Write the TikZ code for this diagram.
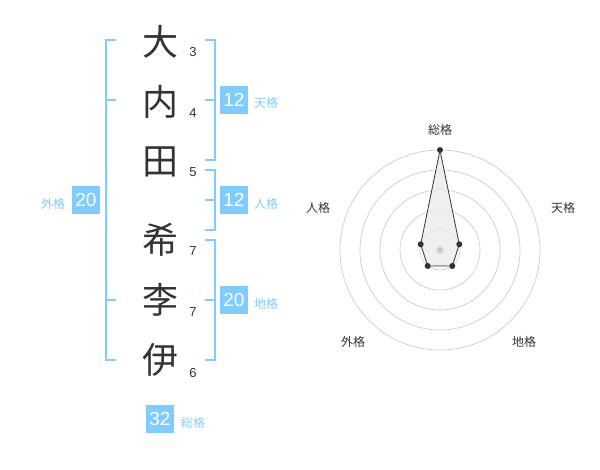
\documentclass[tikz,border=0pt]{standalone}
\usepackage{fontspec}
\setmainfont{Noto Sans CJK JP}
\newfontfamily\arialf{Liberation Sans}
\definecolor{lb}{HTML}{80CCFF}
\definecolor{dk}{HTML}{333333}
\definecolor{gc}{HTML}{CCCCCC}
\begin{document}
\begin{tikzpicture}[x=1pt,y=-1pt,
  kanji/.style={text=dk,font=\fontsize{36}{36}\selectfont,inner sep=0pt},
  cnt/.style={text=dk,font=\arialf\fontsize{13}{13}\selectfont,inner sep=0pt},
  br/.style={draw=lb,line width=2pt},
  valbox/.style={fill=lb,text=white,minimum width=28pt,minimum height=28pt,inner sep=0pt,font=\arialf\fontsize{19}{19}\selectfont},
  lbl/.style={text=lb,font=\fontsize{12}{12}\selectfont,inner sep=0pt},
  rlbl/.style={text=dk,font=\fontsize{12}{12}\selectfont,inner sep=0pt},
  ring/.style={draw=gc,line width=0.7pt},
  dot/.style={circle,fill=dk,inner sep=0pt,minimum size=6pt}]
\useasboundingbox (0,0) rectangle (600,470);
% characters
\node[kanji] (c1) at (160,42) {大};
\node[kanji] (c2) at (160,102) {内};
\node[kanji] (c3) at (160,162) {田};
\node[kanji] (c4) at (160,240) {希};
\node[kanji] (c5) at (160,300) {李};
\node[kanji] (c6) at (160,360) {伊};
% stroke counts
\node[cnt] (n1) at (193,52) {3};
\node[cnt] (n2) at (193,113) {4};
\node[cnt] (n3) at (193,172) {5};
\node[cnt] (n4) at (193,251) {7};
\node[cnt] (n5) at (193,312) {7};
\node[cnt] (n6) at (193,373) {6};
% left bracket
\draw[br] (116,40) -- (106,40) -- (106,360) -- (116,360);
\draw[br] (106,100) -- (116,100);
\draw[br] (106,300) -- (116,300);
% right brackets
\draw[br] (205,40) -- (215,40) -- (215,160) -- (205,160);
\draw[br] (205,100) -- (215,100);
\draw[br] (205,170) -- (215,170) -- (215,230) -- (205,230);
\draw[br] (205,200) -- (215,200);
\draw[br] (205,240) -- (215,240) -- (215,360) -- (205,360);
\draw[br] (205,300) -- (215,300);
% value boxes
\node[valbox] (gai) at (86,200) {20};
\node[lbl] (gail) at (53,204) {外格};
\node[valbox] (ten) at (234,100) {12};
\node[lbl] (tenl) at (266,103) {天格};
\node[valbox] (jin) at (234,200) {12};
\node[lbl] (jinl) at (266,204) {人格};
\node[valbox] (chi) at (234,300) {20};
\node[lbl] (chil) at (266,304) {地格};
\node[valbox] (sou) at (160,419) {32};
\node[lbl] (soul) at (193,423) {総格};
% radar
\coordinate (rc) at (440,250);
\foreach \r in {20,40,60,80,100} \draw[ring] (rc) circle[radius=\r];
\coordinate (pS) at (440,150);
\coordinate (pT) at (459.3,244.3);
\coordinate (pC) at (452.3,266);
\coordinate (pG) at (427.7,266);
\coordinate (pJ) at (420.7,244.3);
\filldraw[fill=black!8,draw=dk,line width=0.8pt,fill opacity=0.8] (pS) -- (pT) -- (pC) -- (pG) -- (pJ) -- cycle;
\fill[gc] (rc) circle[radius=3.5];
\foreach \p in {pS,pT,pC,pG,pJ} \node[dot] at (\p) {};
\node[rlbl] (rS) at (440,130) {総格};
\node[rlbl] (rT) at (563,208) {天格};
\node[rlbl] (rC) at (524,342) {地格};
\node[rlbl] (rG) at (353,342) {外格};
\node[rlbl] (rJ) at (318,208) {人格};
\end{tikzpicture}
\end{document}
